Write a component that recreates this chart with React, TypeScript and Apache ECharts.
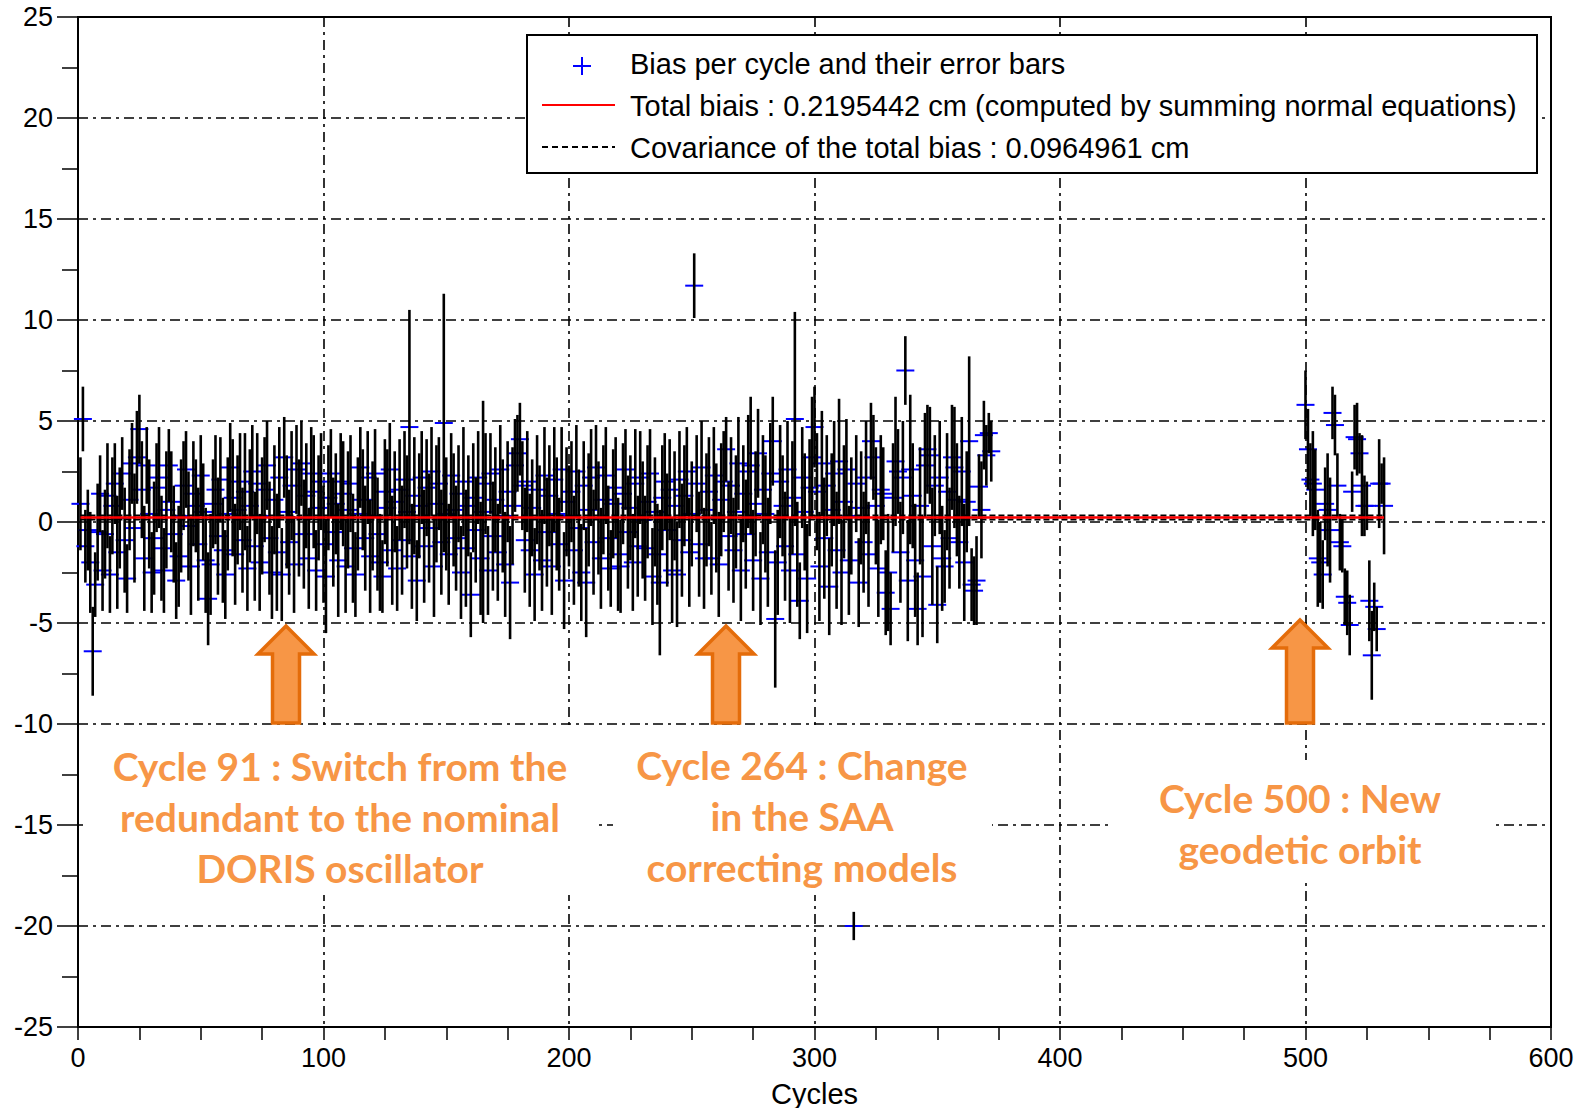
import React, { useEffect, useRef } from "react";
import * as echarts from "echarts";

// ---------- data ----------
const X_MIN = 0;
const X_MAX = 600;
const X_STEP = 100;
const Y_MIN = -25;
const Y_MAX = 25;
const Y_STEP = 5;

// first group: cycles 1..372
const startA = 1;
const biasA = [
  0.9, 5.1, -1.2, -0.4, -2.0, -6.4, -3.1, -0.5, 1.4, -2.4,
  -0.6, 1.3, -2.6, 0.8, 1.9, -1.5, 0.2, 2.4, -0.9, -2.8,
  1.1, 2.9, -0.3, 3.2, 4.6, 1.6, -1.8, 2.8, 0.4, -2.5,
  -0.8, 1.7, 2.2, -1.3, -2.4, 0.6, 2.8, 1.0, -0.6, -2.9,
  -1.7, 0.3, 1.8, 2.6, -0.2, -2.2, 1.4, 0.8, -1.1, 2.3,
  0.5, -1.9, -3.8, -2.1, 0.9, 1.6, -0.7, 2.1, -1.4, -2.6,
  0.4, 2.7, 1.2, -1.6, 0.6, 2.0, -0.9, 1.5, -2.3, 0.8,
  2.5, -1.2, 1.9, -2.0, 0.3, 1.6, 2.8, -0.8, -2.5, 1.1,
  -1.5, 2.2, -2.6, 3.2, 0.5, -1.0, 1.8, -2.1, 2.6, 0.2,
  2.9, -0.6, 1.3, -1.8, 2.4, 1.5, -2.4, 0.7, 2.0, -1.1,
  -2.7, 1.2, 2.4, -0.5, 0.9, -1.9, 2.0, 1.4, -2.2, 0.6,
  1.9, -1.3, -2.6, 0.4, 2.7, 1.1, -0.8, 2.2, -1.7, 0.3,
  2.4, -0.6, -2.0, -2.7, 1.5, 0.7, 2.6, -1.4, 1.0, -2.3,
  1.6, -0.9, 2.1, 0.5, 4.7, -1.7, 1.3, -2.9, 0.8, 2.2,
  -1.2, 1.7, -0.3, 2.5, -2.2, 0.9, 1.9, -1.0, 4.9, 0.4,
  -1.6, 2.3, 0.6, -0.8, 1.4, -2.5, 2.0, -1.3, 0.8, -3.6,
  1.2, -0.4, 2.2, -1.8, 0.5, 1.9, -2.4, 2.4, -0.7, 1.1,
  -1.5, 2.6, 0.3, -2.1, 1.5, -3.0, 0.8, 2.8, 3.4, 4.1,
  1.8, -0.9, 2.0, -1.4, 0.7, -2.6, 1.6, 0.2, -1.9, 2.3,
  -0.5, 1.3, -2.2, 2.1, 0.4, -1.1, 2.6, -2.9, 1.0, 0.3,
  1.5, -1.4, 2.5, -0.3, -2.5, 1.8, -3.0, 0.6, 2.2, -1.0,
  2.7, 0.2, -1.8, 1.1, 2.3, -0.8, -2.3, 0.9, 1.7, -1.6,
  -2.2, 1.4, 2.6, -0.5, 0.7, -2.0, 1.9, -1.2, 2.2, 0.1,
  -1.3, 1.0, 2.4, -2.7, 0.5, -1.6, -3.0, 1.2, 2.0, -0.4,
  1.6, -2.4, 0.8, -2.6, 2.1, -0.9, 1.3, 2.5, -1.5, 0.4,
  11.7, 1.9, -1.1, 2.7, -1.8, 0.6, 1.5, -1.8, 2.3, 0.2,
  -2.1, 1.1, 2.0, 3.6, -0.7, 1.8, -1.4, 0.5, 2.9, -2.4,
  1.4, -0.6, 2.5, 2.8, -1.9, 0.9, 3.4, -2.8, 1.6, 0.4,
  -1.5, 2.4, 4.0, -4.8, -2.0, 2.0, 0.8, -1.2, 2.6, -2.4,
  1.2, 5.1, -1.6, -3.9, 2.2, 0.5, -2.8, 1.7, 3.2, 4.7,
  1.5, -2.2, 2.9, -0.8, 1.8, -3.2, 0.6, 2.4, -1.4, 3.0,
  -2.5, 1.0, 2.6, -1.9, 0.3, -20.0, 1.9, -3.0, 0.7, -1.0,
  2.2, -1.6, 4.0, 3.2, 0.8, -2.3, 1.6, 1.4, -3.5, -2.5,
  -4.3, 1.2, 3.0, 2.5, -1.5, 2.2, 7.5, -2.9, 2.6, 1.3,
  -1.9, -4.3, 0.8, -2.7, 2.8, 3.6, 3.3, -1.2, 1.8, -4.1,
  2.2, -1.8, -2.2, 1.5, -0.8, 3.2, 2.7, 1.1, -1.0, 2.5,
  -2.0, 1.0, 4.0, -3.1, -3.4, -2.9, 1.75, 0.6, 4.3, 3.3, 4.4, 3.5,
];
const errA = [
  2.3, 1.6, 1.8, 2.0, 2.5, 2.2, 1.6, 2.4, 1.9, 2.0,
  2.2, 2.6, 1.9, 2.4, 2.0, 2.8, 2.5, 1.8, 2.6, 1.7,
  2.5, 2.0, 2.7, 2.3, 1.7, 2.4, 2.6, 1.9, 2.7, 2.0,
  2.8, 2.2, 2.5, 2.6, 2.1, 2.9, 1.8, 2.5, 2.4, 1.9,
  2.5, 2.8, 2.2, 1.9, 2.7, 2.4, 2.6, 2.3, 2.8, 2.0,
  2.4, 2.6, 2.3, 2.5, 2.2, 2.7, 2.9, 2.1, 2.6, 2.2,
  2.8, 2.2, 2.9, 2.5, 2.7, 2.4, 2.6, 2.9, 2.1, 2.8,
  2.3, 2.7, 2.5, 2.4, 2.9, 2.6, 2.2, 2.8, 2.3, 2.7,
  2.9, 2.5, 2.3, 2.0, 2.8, 2.6, 2.7, 2.4, 2.2, 2.9,
  2.1, 2.7, 2.6, 2.5, 2.3, 2.8, 2.0, 2.6, 2.4, 2.9,
  2.8, 2.6, 2.2, 2.7, 2.5, 2.8, 2.4, 2.6, 2.3, 2.9,
  2.4, 2.7, 2.1, 2.8, 2.0, 2.5, 2.6, 2.3, 2.8, 2.7,
  2.2, 2.8, 2.4, 1.8, 2.6, 2.9, 2.3, 2.7, 2.5, 2.1,
  2.5, 2.7, 2.4, 2.8, 5.8, 2.6, 2.9, 2.0, 2.6, 2.3,
  2.8, 2.4, 2.7, 2.2, 2.5, 2.9, 2.3, 2.6, 6.4, 2.8,
  2.5, 2.1, 2.8, 2.6, 2.4, 2.3, 2.7, 2.9, 2.5, 2.1,
  2.7, 2.6, 2.3, 2.8, 5.5, 2.5, 2.2, 2.0, 2.7, 2.6,
  2.4, 2.2, 2.8, 2.6, 2.5, 2.8, 2.9, 2.3, 1.9, 1.8,
  2.2, 2.6, 2.5, 2.8, 2.4, 2.3, 2.7, 2.6, 2.5, 2.4,
  2.7, 2.5, 2.4, 2.6, 2.8, 2.3, 2.1, 2.4, 2.7, 2.5,
  2.5, 2.7, 2.3, 2.9, 2.4, 2.2, 2.7, 2.8, 2.4, 2.6,
  2.1, 2.8, 2.5, 2.7, 2.4, 2.6, 1.9, 2.7, 2.5, 2.8,
  2.3, 2.5, 2.0, 2.8, 2.6, 2.4, 2.7, 2.5, 2.3, 2.9,
  2.6, 2.8, 2.2, 2.4, 2.7, 2.5, 3.6, 2.6, 2.4, 2.8,
  2.5, 2.6, 2.7, 2.6, 2.4, 2.8, 2.5, 2.2, 2.7, 2.6,
  1.6, 2.4, 2.6, 2.3, 2.5, 2.8, 2.7, 1.8, 2.4, 2.7,
  2.6, 2.8, 2.5, 1.6, 2.7, 2.4, 2.6, 2.8, 2.3, 2.5,
  2.4, 2.7, 2.8, 3.4, 2.5, 2.6, 2.2, 2.3, 2.7, 2.9,
  2.7, 2.5, 2.2, 3.4, 2.6, 2.8, 2.5, 2.7, 2.4, 2.6,
  2.8, 5.3, 2.6, 1.9, 2.5, 2.9, 2.7, 2.4, 3.0, 2.0,
  2.9, 2.7, 2.6, 3.0, 2.5, 2.4, 2.8, 2.6, 2.9, 3.1,
  2.6, 2.8, 2.5, 2.7, 2.9, 0.7, 2.4, 2.2, 2.8, 2.5,
  2.8, 2.6, 1.9, 2.1, 2.9, 2.4, 2.7, 2.3, 2.1, 2.9,
  1.8, 2.7, 3.2, 2.1, 2.5, 2.8, 1.7, 3.0, 3.7, 2.6,
  2.8, 1.8, 2.9, 3.0, 2.6, 2.2, 2.4, 2.9, 2.5, 1.9,
  2.8, 2.6, 1.8, 2.9, 2.5, 2.6, 3.0, 2.8, 2.3, 2.7,
  2.9, 2.5, 4.2, 1.8, 1.7, 2.2, 1.6, 2.4, 1.7, 1.5, 1.0, 1.5,
];

// second group: cycles 500..532
const startB = 500;
const biasB = [
  5.8, 3.6, 2.1, 1.9, 1.6, -1.8, -2.0, -2.6, 0.9, 0.6,
  -0.4, 5.4, 4.8, 1.8, -1.0, -1.2, -3.7, -4.0, -5.1, 1.5,
  4.2, 4.1, 3.4, 1.8, 0.8, 0.8, -3.9, -6.6, -4.2, -5.3,
  1.9, 1.9, 0.8,
];
const errB = [
  1.7, 2.0, 1.8, 2.6, 2.0, 2.4, 2.0, 1.7, 1.8, 2.8,
  2.6, 1.3, 1.5, 1.6, 1.4, 1.3, 1.4, 1.6, 1.5, 1.0,
  1.6, 1.8, 1.0, 2.5, 1.5, 1.2, 2.0, 2.2, 1.2, 1.1,
  2.2, 1.0, 2.4,
];

const totalBias = 0.2195442;
const covariance = 0.0964961;

const legendLabels = [
  "Bias per cycle and their error bars",
  "Total biais : 0.2195442 cm (computed by summing normal equations)",
  "Covariance of the total bias : 0.0964961 cm",
];

const annotationTexts = [
  "Cycle 91 : Switch from the\nredundant to the nominal\nDORIS oscillator",
  "Cycle 264 : Change\nin the SAA\ncorrecting models",
  "Cycle 500 : New\ngeodetic orbit",
];

// ---------- helpers ----------
function buildPoints(start: number, bias: number[], err: number[]) {
  return bias.map((b, i) => [start + i, b, err[i]]);
}

const points = [
  ...buildPoints(startA, biasA, errA),
  ...buildPoints(startB, biasB, errB),
];
const firstCycle = startA;
const lastCycle = startB + biasB.length - 1;

const ORANGE = "#F79646";
const ORANGE_DARK = "#E46C0A";

function arrow(cx: number, tipY: number, baseY: number, bottomY: number) {
  const hw = 28;
  const sw = 13.5;
  return {
    type: "polygon",
    z: 120,
    shape: {
      points: [
        [cx, tipY],
        [cx + hw, baseY],
        [cx + sw, baseY],
        [cx + sw, bottomY],
        [cx - sw, bottomY],
        [cx - sw, baseY],
        [cx - hw, baseY],
      ],
    },
    style: { fill: ORANGE, stroke: ORANGE_DARK, lineWidth: 3.5 },
  };
}

export default function App() {
  const ref = useRef<HTMLDivElement>(null);

  useEffect(() => {
    document.body.style.margin = "0";
    if (!ref.current) return;
    const chart = echarts.init(ref.current, undefined, { renderer: "svg" });

    const labelFont = "Liberation Sans";
    const annFont = "bold 39px Lato";

    const option: any = {
      animation: false,
      backgroundColor: "#ffffff",
      grid: {
        left: 78,
        top: 17,
        right: 28,
        bottom: 81,
        outerBoundsMode: "none",
        containLabel: false,
        show: true,
        borderColor: "#000",
        borderWidth: 2,
        backgroundColor: "transparent",
      },
      xAxis: {
        type: "value",
        min: X_MIN,
        max: X_MAX,
        interval: X_STEP,
        name: "Cycles",
        nameLocation: "middle",
        nameGap: 52,
        nameTextStyle: { fontSize: 29, color: "#000", fontFamily: labelFont },
        axisLine: { show: true, onZero: false, lineStyle: { color: "#000", width: 2 } },
        axisTick: { show: true, length: 13, lineStyle: { color: "#000", width: 1.5 } },
        minorTick: { show: true, splitNumber: 4, length: 13, lineStyle: { color: "#000", width: 1.5 } },
        axisLabel: {
          margin: 17,
          fontSize: 27,
          color: "#000",
          fontFamily: labelFont,
          showMinLabel: true,
          showMaxLabel: true,
        },
        splitLine: { show: true, lineStyle: { color: "#000", width: 1.6, type: [10, 5, 3, 5] } },
      },
      yAxis: {
        type: "value",
        min: Y_MIN,
        max: Y_MAX,
        interval: Y_STEP,
        axisLine: { show: true, onZero: false, lineStyle: { color: "#000", width: 2 } },
        axisTick: { show: true, length: 21, lineStyle: { color: "#000", width: 1.5 } },
        minorTick: { show: true, splitNumber: 2, length: 16, lineStyle: { color: "#000", width: 1.5 } },
        axisLabel: {
          margin: 25,
          fontSize: 27,
          color: "#000",
          fontFamily: labelFont,
          showMinLabel: true,
          showMaxLabel: true,
        },
        splitLine: { show: true, lineStyle: { color: "#000", width: 1.6, type: [10, 5, 3, 5] } },
      },
      series: [
        {
          name: "Bias per cycle",
          type: "custom",
          z: 2,
          dimensions: ["cycle", "bias", "err"],
          encode: { x: 0, y: 1 },
          data: points,
          renderItem: (params: any, api: any) => {
            const p = api.coord([api.value(0), api.value(1)]);
            return {
              type: "line",
              shape: { x1: p[0] - 9, y1: p[1], x2: p[0] + 9, y2: p[1] },
              style: { stroke: "#0000ff", lineWidth: 2 },
            };
          },
        },
        {
          name: "Error bars",
          type: "custom",
          z: 3,
          dimensions: ["cycle", "bias", "err"],
          encode: { x: 0, y: 1 },
          data: points,
          renderItem: (params: any, api: any) => {
            const x = api.value(0);
            const b = api.value(1);
            const e = api.value(2);
            const t = api.coord([x, b + e]);
            const d = api.coord([x, b - e]);
            return {
              type: "line",
              shape: { x1: t[0], y1: t[1], x2: d[0], y2: d[1] },
              style: { stroke: "#000", lineWidth: 2.6 },
            };
          },
        },
        {
          name: "Covariance +",
          type: "line",
          z: 4,
          symbol: "none",
          data: [
            [firstCycle, totalBias + covariance],
            [lastCycle, totalBias + covariance],
          ],
          lineStyle: { color: "#000", width: 2, type: [6, 3] },
        },
        {
          name: "Covariance -",
          type: "line",
          z: 4,
          symbol: "none",
          data: [
            [firstCycle, totalBias - covariance],
            [lastCycle, totalBias - covariance],
          ],
          lineStyle: { color: "#000", width: 2, type: [6, 3] },
        },
        {
          name: "Total bias",
          type: "line",
          z: 5,
          symbol: "none",
          data: [
            [firstCycle, totalBias],
            [lastCycle, totalBias],
          ],
          lineStyle: { color: "#ff0000", width: 2.5 },
        },
      ],
      graphic: [
        // legend box
        {
          type: "rect",
          z: 100,
          shape: { x: 527, y: 35, width: 1010, height: 138 },
          style: { fill: "#fff", stroke: "#000", lineWidth: 2 },
        },
        {
          type: "line",
          z: 101,
          shape: { x1: 573, y1: 66, x2: 591, y2: 66 },
          style: { stroke: "#0000ff", lineWidth: 2 },
        },
        {
          type: "line",
          z: 101,
          shape: { x1: 582, y1: 57, x2: 582, y2: 75 },
          style: { stroke: "#0000ff", lineWidth: 2 },
        },
        {
          type: "line",
          z: 101,
          shape: { x1: 542, y1: 105, x2: 615, y2: 105 },
          style: { stroke: "#ff0000", lineWidth: 2 },
        },
        {
          type: "line",
          z: 101,
          shape: { x1: 542, y1: 147, x2: 615, y2: 147 },
          style: { stroke: "#000", lineWidth: 2, lineDash: [6, 4] },
        },
        ...legendLabels.map((t, i) => ({
          type: "text",
          z: 101,
          x: 630,
          y: 64 + i * 42,
          style: {
            text: t,
            font: `29px ${labelFont}`,
            fill: "#000",
            align: "left",
            verticalAlign: "middle",
          },
        })),
        // annotation boxes
        {
          type: "rect",
          z: 110,
          shape: { x: 83, y: 728, width: 516, height: 167 },
          style: { fill: "#fff" },
        },
        {
          type: "rect",
          z: 110,
          shape: { x: 613, y: 728, width: 379, height: 167 },
          style: { fill: "#fff" },
        },
        {
          type: "rect",
          z: 110,
          shape: { x: 1112, y: 760, width: 381, height: 123 },
          style: { fill: "#fff" },
        },
        {
          type: "text",
          z: 111,
          x: 340,
          y: 817,
          style: {
            text: annotationTexts[0],
            font: annFont,
            fill: ORANGE,
            align: "center",
            verticalAlign: "middle",
            lineHeight: 51,
          },
        },
        {
          type: "text",
          z: 111,
          x: 802,
          y: 816,
          style: {
            text: annotationTexts[1],
            font: annFont,
            fill: ORANGE,
            align: "center",
            verticalAlign: "middle",
            lineHeight: 51,
          },
        },
        {
          type: "text",
          z: 111,
          x: 1300,
          y: 823,
          style: {
            text: annotationTexts[2],
            font: annFont,
            fill: ORANGE,
            align: "center",
            verticalAlign: "middle",
            lineHeight: 51,
          },
        },
        arrow(286, 626, 654, 723),
        arrow(726, 626, 654, 723),
        arrow(1300, 620, 648, 723),
      ],
    };

    chart.setOption(option);
    return () => chart.dispose();
  }, []);

  return <div ref={ref} style={{ width: 1579, height: 1108 }} />;
}
